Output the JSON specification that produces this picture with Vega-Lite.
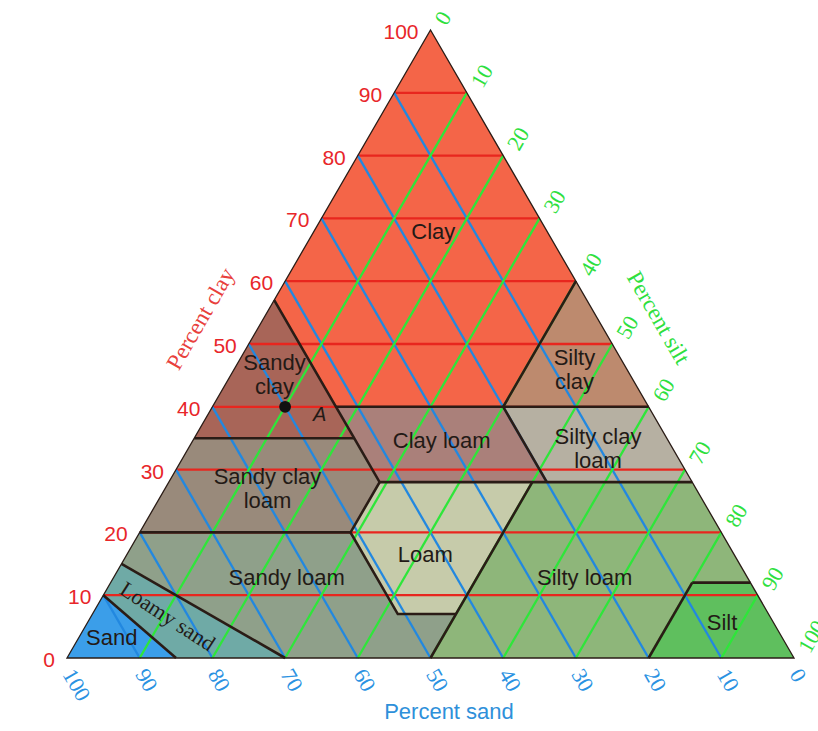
{
  "$schema": "https://vega.github.io/schema/vega-lite/v6.json",
  "width": 818,
  "height": 731,
  "autosize": {"type": "none"},
  "padding": 0,
  "background": "white",
  "config": {"view": {"stroke": null}},
  "datasets": {
    "regions": [
      {"r": "Clay", "i": 0, "tx": 50, "clay": 100}, {"r": "Clay", "i": 1, "tx": 28.5, "clay": 57}, {"r": "Clay", "i": 2, "tx": 37, "clay": 40}, {"r": "Clay", "i": 3, "tx": 60, "clay": 40}, {"r": "Clay", "i": 4, "tx": 70, "clay": 60},
      {"r": "Sandy clay", "i": 0, "tx": 28.5, "clay": 57}, {"r": "Sandy clay", "i": 1, "tx": 37, "clay": 40}, {"r": "Sandy clay", "i": 2, "tx": 39.5, "clay": 35}, {"r": "Sandy clay", "i": 3, "tx": 17.5, "clay": 35},
      {"r": "Silty clay", "i": 0, "tx": 70, "clay": 60}, {"r": "Silty clay", "i": 1, "tx": 60, "clay": 40}, {"r": "Silty clay", "i": 2, "tx": 80, "clay": 40},
      {"r": "Clay loam", "i": 0, "tx": 37, "clay": 40}, {"r": "Clay loam", "i": 1, "tx": 60, "clay": 40}, {"r": "Clay loam", "i": 2, "tx": 66, "clay": 28}, {"r": "Clay loam", "i": 3, "tx": 43, "clay": 28}, {"r": "Clay loam", "i": 4, "tx": 39.5, "clay": 35},
      {"r": "Silty clay loam", "i": 0, "tx": 60, "clay": 40}, {"r": "Silty clay loam", "i": 1, "tx": 80, "clay": 40}, {"r": "Silty clay loam", "i": 2, "tx": 86, "clay": 28}, {"r": "Silty clay loam", "i": 3, "tx": 66, "clay": 28},
      {"r": "Sandy clay loam", "i": 0, "tx": 17.5, "clay": 35}, {"r": "Sandy clay loam", "i": 1, "tx": 39.5, "clay": 35}, {"r": "Sandy clay loam", "i": 2, "tx": 43, "clay": 28}, {"r": "Sandy clay loam", "i": 3, "tx": 39, "clay": 20}, {"r": "Sandy clay loam", "i": 4, "tx": 10, "clay": 20},
      {"r": "Loam", "i": 0, "tx": 43, "clay": 28}, {"r": "Loam", "i": 1, "tx": 64, "clay": 28}, {"r": "Loam", "i": 2, "tx": 53.5, "clay": 7}, {"r": "Loam", "i": 3, "tx": 45.5, "clay": 7}, {"r": "Loam", "i": 4, "tx": 39, "clay": 20},
      {"r": "Sandy loam", "i": 0, "tx": 10, "clay": 20}, {"r": "Sandy loam", "i": 1, "tx": 39, "clay": 20}, {"r": "Sandy loam", "i": 2, "tx": 45.5, "clay": 7}, {"r": "Sandy loam", "i": 3, "tx": 53.5, "clay": 7}, {"r": "Sandy loam", "i": 4, "tx": 50, "clay": 0}, {"r": "Sandy loam", "i": 5, "tx": 30, "clay": 0}, {"r": "Sandy loam", "i": 6, "tx": 7.5, "clay": 15},
      {"r": "Silty loam", "i": 0, "tx": 64, "clay": 28}, {"r": "Silty loam", "i": 1, "tx": 86, "clay": 28}, {"r": "Silty loam", "i": 2, "tx": 94, "clay": 12}, {"r": "Silty loam", "i": 3, "tx": 86, "clay": 12}, {"r": "Silty loam", "i": 4, "tx": 80, "clay": 0}, {"r": "Silty loam", "i": 5, "tx": 50, "clay": 0}, {"r": "Silty loam", "i": 6, "tx": 53.5, "clay": 7},
      {"r": "Silt", "i": 0, "tx": 86, "clay": 12}, {"r": "Silt", "i": 1, "tx": 94, "clay": 12}, {"r": "Silt", "i": 2, "tx": 100, "clay": 0}, {"r": "Silt", "i": 3, "tx": 80, "clay": 0},
      {"r": "Loamy sand", "i": 0, "tx": 5, "clay": 10}, {"r": "Loamy sand", "i": 1, "tx": 7.5, "clay": 15}, {"r": "Loamy sand", "i": 2, "tx": 30, "clay": 0}, {"r": "Loamy sand", "i": 3, "tx": 15, "clay": 0},
      {"r": "Sand", "i": 0, "tx": 0, "clay": 0}, {"r": "Sand", "i": 1, "tx": 5, "clay": 10}, {"r": "Sand", "i": 2, "tx": 15, "clay": 0}
    ],
    "grid": [
      {"kind": "clay", "tx": 5, "clay": 10, "tx2": 95, "clay2": 10}, {"kind": "clay", "tx": 10, "clay": 20, "tx2": 90, "clay2": 20}, {"kind": "clay", "tx": 15, "clay": 30, "tx2": 85, "clay2": 30}, {"kind": "clay", "tx": 20, "clay": 40, "tx2": 80, "clay2": 40}, {"kind": "clay", "tx": 25, "clay": 50, "tx2": 75, "clay2": 50}, {"kind": "clay", "tx": 30, "clay": 60, "tx2": 70, "clay2": 60}, {"kind": "clay", "tx": 35, "clay": 70, "tx2": 65, "clay2": 70}, {"kind": "clay", "tx": 40, "clay": 80, "tx2": 60, "clay2": 80}, {"kind": "clay", "tx": 45, "clay": 90, "tx2": 55, "clay2": 90},
      {"kind": "sand", "tx": 90, "clay": 0, "tx2": 45, "clay2": 90}, {"kind": "sand", "tx": 80, "clay": 0, "tx2": 40, "clay2": 80}, {"kind": "sand", "tx": 70, "clay": 0, "tx2": 35, "clay2": 70}, {"kind": "sand", "tx": 60, "clay": 0, "tx2": 30, "clay2": 60}, {"kind": "sand", "tx": 50, "clay": 0, "tx2": 25, "clay2": 50}, {"kind": "sand", "tx": 40, "clay": 0, "tx2": 20, "clay2": 40}, {"kind": "sand", "tx": 30, "clay": 0, "tx2": 15, "clay2": 30}, {"kind": "sand", "tx": 20, "clay": 0, "tx2": 10, "clay2": 20}, {"kind": "sand", "tx": 10, "clay": 0, "tx2": 5, "clay2": 10},
      {"kind": "silt", "tx": 10, "clay": 0, "tx2": 55, "clay2": 90}, {"kind": "silt", "tx": 20, "clay": 0, "tx2": 60, "clay2": 80}, {"kind": "silt", "tx": 30, "clay": 0, "tx2": 65, "clay2": 70}, {"kind": "silt", "tx": 40, "clay": 0, "tx2": 70, "clay2": 60}, {"kind": "silt", "tx": 50, "clay": 0, "tx2": 75, "clay2": 50}, {"kind": "silt", "tx": 60, "clay": 0, "tx2": 80, "clay2": 40}, {"kind": "silt", "tx": 70, "clay": 0, "tx2": 85, "clay2": 30}, {"kind": "silt", "tx": 80, "clay": 0, "tx2": 90, "clay2": 20}, {"kind": "silt", "tx": 90, "clay": 0, "tx2": 95, "clay2": 10}
    ],
    "borders": [
      {"b": "p1", "i": 0, "tx": 28.5, "clay": 57}, {"b": "p1", "i": 1, "tx": 37, "clay": 40}, {"b": "p1", "i": 2, "tx": 39.5, "clay": 35}, {"b": "p1", "i": 3, "tx": 43, "clay": 28}, {"b": "p1", "i": 4, "tx": 39, "clay": 20}, {"b": "p1", "i": 5, "tx": 45.5, "clay": 7}, {"b": "p1", "i": 6, "tx": 53.5, "clay": 7},
      {"b": "p2", "i": 0, "tx": 64, "clay": 28}, {"b": "p2", "i": 1, "tx": 53.5, "clay": 7}, {"b": "p2", "i": 2, "tx": 50, "clay": 0},
      {"b": "p3", "i": 0, "tx": 37, "clay": 40}, {"b": "p3", "i": 1, "tx": 80, "clay": 40},
      {"b": "p4", "i": 0, "tx": 70, "clay": 60}, {"b": "p4", "i": 1, "tx": 60, "clay": 40}, {"b": "p4", "i": 2, "tx": 66, "clay": 28},
      {"b": "p5", "i": 0, "tx": 17.5, "clay": 35}, {"b": "p5", "i": 1, "tx": 39.5, "clay": 35},
      {"b": "p6", "i": 0, "tx": 43, "clay": 28}, {"b": "p6", "i": 1, "tx": 86, "clay": 28},
      {"b": "p7", "i": 0, "tx": 10, "clay": 20}, {"b": "p7", "i": 1, "tx": 39, "clay": 20},
      {"b": "p8", "i": 0, "tx": 86, "clay": 12}, {"b": "p8", "i": 1, "tx": 94, "clay": 12},
      {"b": "p9", "i": 0, "tx": 86, "clay": 12}, {"b": "p9", "i": 1, "tx": 80, "clay": 0},
      {"b": "p10", "i": 0, "tx": 7.5, "clay": 15}, {"b": "p10", "i": 1, "tx": 30, "clay": 0},
      {"b": "p11", "i": 0, "tx": 5, "clay": 10}, {"b": "p11", "i": 1, "tx": 15, "clay": 0}
    ],
    "outline": [
      {"i": 0, "tx": 0, "clay": 0}, {"i": 1, "tx": 50, "clay": 100}, {"i": 2, "tx": 100, "clay": 0}
    ],
    "clayTicks": [
      {"v": "0", "tx": 0, "clay": 0}, {"v": "10", "tx": 5, "clay": 10}, {"v": "20", "tx": 10, "clay": 20}, {"v": "30", "tx": 15, "clay": 30}, {"v": "40", "tx": 20, "clay": 40}, {"v": "50", "tx": 25, "clay": 50}, {"v": "60", "tx": 30, "clay": 60}, {"v": "70", "tx": 35, "clay": 70}, {"v": "80", "tx": 40, "clay": 80}, {"v": "90", "tx": 45, "clay": 90}, {"v": "100", "tx": 50, "clay": 100}
    ],
    "siltTicks": [
      {"v": "0", "tx": 50, "clay": 100}, {"v": "10", "tx": 55, "clay": 90}, {"v": "20", "tx": 60, "clay": 80}, {"v": "30", "tx": 65, "clay": 70}, {"v": "40", "tx": 70, "clay": 60}, {"v": "50", "tx": 75, "clay": 50}, {"v": "60", "tx": 80, "clay": 40}, {"v": "70", "tx": 85, "clay": 30}, {"v": "80", "tx": 90, "clay": 20}, {"v": "90", "tx": 95, "clay": 10}, {"v": "100", "tx": 100, "clay": 0}
    ],
    "sandTicks": [
      {"v": "100", "tx": 0, "clay": 0}, {"v": "90", "tx": 10, "clay": 0}, {"v": "80", "tx": 20, "clay": 0}, {"v": "70", "tx": 30, "clay": 0}, {"v": "60", "tx": 40, "clay": 0}, {"v": "50", "tx": 50, "clay": 0}, {"v": "40", "tx": 60, "clay": 0}, {"v": "30", "tx": 70, "clay": 0}, {"v": "20", "tx": 80, "clay": 0}, {"v": "10", "tx": 90, "clay": 0}, {"v": "0", "tx": 100, "clay": 0}
    ],
    "labels": [
      {"name": "Clay", "tx": 50.39, "clay": 67.9},
      {"name": "Sandy\nclay", "tx": 28.54, "clay": 46.95},
      {"name": "Silty\nclay", "tx": 69.8, "clay": 47.7},
      {"name": "Clay loam", "tx": 51.54, "clay": 34.54},
      {"name": "Silty clay\nloam", "tx": 73.04, "clay": 35.2},
      {"name": "Sandy clay\nloam", "tx": 27.58, "clay": 28.85},
      {"name": "Loam", "tx": 49.29, "clay": 16.4},
      {"name": "Sandy loam", "tx": 30.22, "clay": 12.69},
      {"name": "Silty loam", "tx": 71.21, "clay": 12.69},
      {"name": "Silt", "tx": 90.1, "clay": 5.52},
      {"name": "Sand", "tx": 6.15, "clay": 3.13}
    ]
  },
  "encoding": {
    "x": {"field": "tx", "type": "quantitative", "scale": {"domain": [-9.216, 103.3], "nice": false, "zero": false}, "axis": null},
    "y": {"field": "clay", "type": "quantitative", "scale": {"domain": [-11.624, 104.777], "nice": false, "zero": false}, "axis": null}
  },
  "layer": [
    {
      "data": {"name": "regions"},
      "mark": {"type": "line", "interpolate": "linear-closed", "strokeWidth": 0, "fillOpacity": 1},
      "encoding": {
        "detail": {"field": "r", "type": "nominal"},
        "order": {"field": "i", "type": "quantitative"},
        "fill": {"field": "r", "type": "nominal", "legend": null, "scale": {
          "domain": ["Clay", "Sandy clay", "Silty clay", "Clay loam", "Silty clay loam", "Sandy clay loam", "Loam", "Sandy loam", "Silty loam", "Silt", "Loamy sand", "Sand"],
          "range": ["#F46548", "#A86558", "#BD8A6E", "#AA807A", "#B6B0A2", "#998A7B", "#C6CBAA", "#8FA08A", "#8EB67A", "#5FBF5E", "#6FAAA6", "#3B9EE9"]}}
      }
    },
    {
      "data": {"name": "grid"},
      "mark": {"type": "rule", "strokeWidth": 2.3},
      "encoding": {
        "x2": {"field": "tx2"},
        "y2": {"field": "clay2"},
        "color": {"field": "kind", "type": "nominal", "legend": null, "scale": {"domain": ["clay", "sand", "silt"], "range": ["#E8261E", "#2288E0", "#2EE63A"]}}
      }
    },
    {
      "data": {"name": "borders"},
      "mark": {"type": "line", "color": "#2A1C16", "strokeWidth": 2.6},
      "encoding": {
        "detail": {"field": "b", "type": "nominal"},
        "order": {"field": "i", "type": "quantitative"}
      }
    },
    {
      "data": {"name": "outline"},
      "mark": {"type": "line", "interpolate": "linear-closed", "color": "#2A1C16", "strokeWidth": 1.3},
      "encoding": {
        "order": {"field": "i", "type": "quantitative"}
      }
    },
    {
      "data": {"name": "clayTicks"},
      "mark": {"type": "text", "align": "right", "baseline": "middle", "dx": -12, "dy": 3, "font": "Liberation Sans", "fontSize": 21, "color": "#E8262A"},
      "encoding": {"text": {"field": "v"}}
    },
    {
      "data": {"name": "siltTicks"},
      "mark": {"type": "text", "align": "left", "baseline": "middle", "angle": 300, "dx": 11, "dy": 5, "font": "Liberation Serif", "fontSize": 22, "color": "#2EE03E"},
      "encoding": {"text": {"field": "v"}}
    },
    {
      "data": {"name": "sandTicks"},
      "mark": {"type": "text", "align": "left", "baseline": "middle", "angle": 60, "dx": 11.5, "dy": 5.5, "font": "Liberation Serif", "fontSize": 22, "color": "#2A92E2"},
      "encoding": {"text": {"field": "v"}}
    },
    {
      "data": {"values": [{"t": "Percent clay", "tx": 18.43, "clay": 53.98}]},
      "mark": {"type": "text", "align": "center", "baseline": "middle", "angle": 300, "font": "Liberation Serif", "fontSize": 23, "color": "#E8403C"},
      "encoding": {"text": {"field": "t"}}
    },
    {
      "data": {"values": [{"t": "Percent silt", "tx": 81.29, "clay": 54.14}]},
      "mark": {"type": "text", "align": "center", "baseline": "middle", "angle": 60, "font": "Liberation Serif", "fontSize": 23, "color": "#2EE03E"},
      "encoding": {"text": {"field": "t"}}
    },
    {
      "data": {"values": [{"t": "Percent sand", "tx": 52.54, "clay": -8.6}]},
      "mark": {"type": "text", "align": "center", "baseline": "middle", "font": "Liberation Sans", "fontSize": 22, "color": "#2E90DA"},
      "encoding": {"text": {"field": "t"}}
    },
    {
      "data": {"name": "labels"},
      "mark": {"type": "text", "align": "center", "baseline": "middle", "lineBreak": "\n", "lineHeight": 24, "font": "Liberation Sans", "fontSize": 22, "color": "#231A16"},
      "encoding": {"text": {"field": "name"}}
    },
    {
      "data": {"values": [{"t": "Loamy   sand", "tx": 13.8, "clay": 6.6}]},
      "mark": {"type": "text", "align": "center", "baseline": "middle", "angle": 33, "font": "Liberation Serif", "fontSize": 22, "color": "#231A16"},
      "encoding": {"text": {"field": "t"}}
    },
    {
      "data": {"values": [{"t": "A", "tx": 34.76, "clay": 38.7}]},
      "mark": {"type": "text", "align": "center", "baseline": "middle", "font": "Liberation Sans", "fontStyle": "italic", "fontSize": 20, "color": "#231A16"},
      "encoding": {"text": {"field": "t"}}
    },
    {
      "data": {"values": [{"p": "A", "tx": 30, "clay": 40}]},
      "mark": {"type": "point", "filled": true, "size": 140, "color": "#111111", "opacity": 1},
      "encoding": {}
    }
  ]
}
